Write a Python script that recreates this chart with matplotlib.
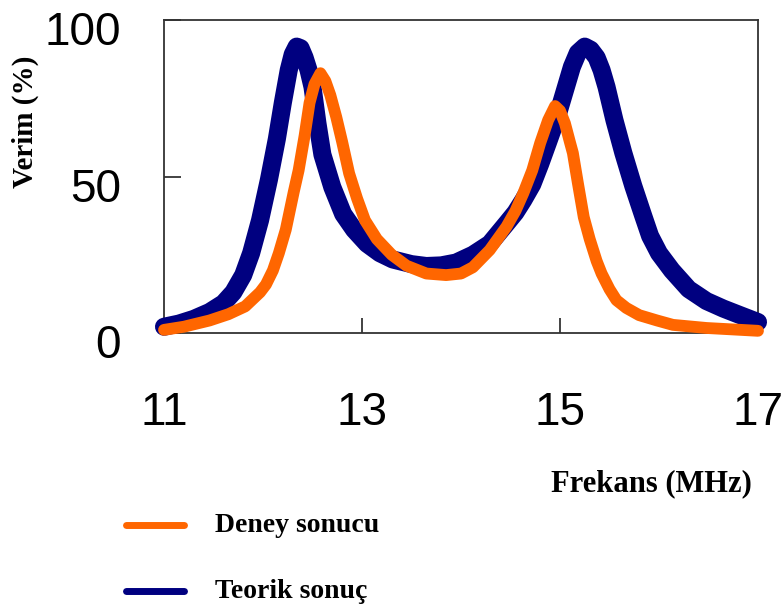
import matplotlib
import matplotlib.pyplot as plt
import matplotlib.transforms as mtransforms

matplotlib.use('agg')

# theoretical result (navy)
teorik_x = [11.0, 11.15, 11.3, 11.46, 11.6, 11.7, 11.8, 11.88, 11.97, 12.06, 12.14, 12.2,
            12.26, 12.3, 12.34, 12.38, 12.42, 12.46, 12.5, 12.55, 12.6, 12.7, 12.81, 12.92,
            13.05, 13.18, 13.31, 13.5, 13.65, 13.8, 13.95, 14.12, 14.29, 14.46, 14.55, 14.63,
            14.72, 14.8, 14.88, 14.97, 15.06, 15.12, 15.18, 15.25, 15.31, 15.37, 15.42, 15.47,
            15.55, 15.64, 15.74, 15.84, 15.91, 16.0, 16.13, 16.3, 16.48, 16.65, 16.82, 17.0]
teorik_y = [2, 3, 4.5, 6.7, 9.5, 13, 18.5, 25.5, 36, 49, 62, 73.5,
            84, 89, 91.5, 91, 88, 84, 78.6, 67, 57, 46.6, 38, 33,
            28.5, 25.5, 23.5, 22, 21.4, 21.6, 22.5, 25, 28.5, 35, 38.5, 42.5,
            47.5, 54, 61, 69, 78.6, 85, 89.5, 91.5, 90.5, 88, 84, 78.6,
            68, 57.5, 47, 37.5, 31, 25.5, 20, 14, 10.2, 7.8, 5.7, 3.5]

# experimental result (orange)
deney_x = [11.0, 11.2, 11.46, 11.65, 11.82, 11.97, 12.03, 12.1, 12.16, 12.23, 12.31, 12.36,
           12.42, 12.47, 12.52, 12.58, 12.63, 12.68, 12.74, 12.8, 12.87, 12.95, 13.03, 13.15,
           13.3, 13.45, 13.65, 13.85, 14.0, 14.12, 14.29, 14.46, 14.55, 14.63, 14.72, 14.8,
           14.88, 14.95, 15.0, 15.05, 15.1, 15.13, 15.18, 15.24, 15.3, 15.37, 15.42, 15.5,
           15.57, 15.67, 15.8, 15.98, 16.14, 16.48, 17.0]
deney_y = [1, 2, 4, 6, 8.5, 13, 15.5, 20, 25.5, 33, 45, 52,
           63, 73.5, 79.5, 83, 80.5, 76, 69, 61, 51, 43, 36, 30,
           25, 21.5, 19, 18.5, 19, 21, 26.5, 34, 39, 44.7, 52, 60.7,
           68, 72.5, 71, 67, 61, 57.5, 48, 37, 30, 23, 19, 14,
           10.5, 8, 5.7, 4, 2.6, 1.6, 0.7]

x_ticks = [11, 13, 15, 17]
y_ticks = [0, 50, 100]

navy = '#000080'
orange = '#ff6600'
serif = 'Liberation Serif'

fig = plt.figure(figsize=(7.83, 6.14), dpi=100)
ax = fig.add_axes([164 / 783, 1 - 333 / 614, (758 - 164) / 783, (333 - 20) / 614])

ax.plot(teorik_x, teorik_y, color=navy, lw=13, solid_capstyle='round',
        solid_joinstyle='round', clip_on=False, zorder=3)
ax.plot(deney_x, deney_y, color=orange, lw=8.5, solid_capstyle='round',
        solid_joinstyle='round', clip_on=False, zorder=4)

ax.set_xlim(11, 17)
ax.set_ylim(0, 100)
ax.set_xticks(x_ticks)
ax.set_yticks(y_ticks)
ax.set_xticklabels([str(t) for t in x_ticks], family='Liberation Sans', fontsize=33)
ax.set_yticklabels([str(t) for t in y_ticks], family='Liberation Sans', fontsize=33)
ax.tick_params(axis='x', direction='in', length=11, width=1.2, pad=42, color='#222222')
ax.tick_params(axis='y', direction='in', length=12, width=1.2, pad=31, color='#222222')

offset = mtransforms.ScaledTranslation(0, -6 / 72, fig.dpi_scale_trans)
for lab in ax.get_yticklabels():
    lab.set_transform(lab.get_transform() + offset)

for s in ax.spines.values():
    s.set_color('#333333')
    s.set_linewidth(1.3)

fig.text(25 / 783, 1 - 122 / 614, 'Verim (%)', rotation=90, ha='center', va='center',
         family=serif, weight='bold', fontsize=21)
fig.text(752 / 783, 1 - 484 / 614, 'Frekans (MHz)', ha='right', va='center',
         family=serif, weight='bold', fontsize=22)

# legend drawn by hand below the chart
legend_rows = [(orange, 'Deney sonucu', 525), (navy, 'Teorik sonuç', 591)]
for col, label, ypix in legend_rows:
    yf = 1 - ypix / 614
    fig.add_artist(plt.Line2D([126 / 783, 184 / 783], [yf, yf], color=col, lw=5,
                              solid_capstyle='round', transform=fig.transFigure))
    fig.text(215 / 783, yf, label, ha='left', va='center', family=serif,
             weight='bold', fontsize=20)

plt.savefig('out.png', dpi=100)
plt.close()
